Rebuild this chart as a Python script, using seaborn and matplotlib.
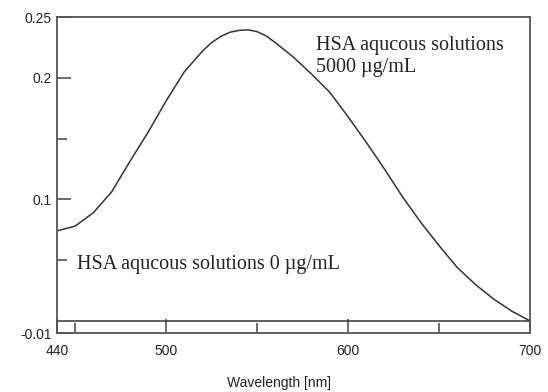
import matplotlib
matplotlib.use("Agg")
import matplotlib.pyplot as plt
import seaborn as sns
import pandas as pd
from matplotlib.ticker import FixedLocator

wavelength = [440, 450, 460, 470, 480, 490, 500, 510, 520, 525, 530, 535, 540, 545, 550,
              555, 560, 570, 580, 590, 600, 610, 620, 630, 640, 650, 660, 670, 680, 690, 700]
absorb_5000 = [0.074, 0.078, 0.089, 0.106, 0.131, 0.155, 0.181, 0.205, 0.222, 0.229,
               0.234, 0.2375, 0.239, 0.2395, 0.238, 0.2345, 0.229, 0.217, 0.203, 0.188,
               0.168, 0.147, 0.125, 0.102, 0.081, 0.062, 0.044, 0.030, 0.018, 0.008, 0.000]
absorb_0 = [0.0] * len(wavelength)

x_major = [440, 500, 600, 700]
x_minor = [450, 550, 650]
y_major = [-0.01, 0.1, 0.2, 0.25]
y_major_labels = ["-0.01", "0.1", "0.2", "0.25"]
y_minor = [0.05, 0.15]

label_top = "HSA aqucous solutions\n5000 µg/mL"
label_bottom = "HSA aqucous solutions 0 µg/mL"
xlabel = "Wavelength [nm]"

sns.set_style("white")
plt.rcParams["font.family"] = ["Liberation Sans", "DejaVu Sans"]

df = pd.DataFrame({"wl": wavelength, "a5000": absorb_5000, "a0": absorb_0})

fig = plt.figure(figsize=(5.48, 3.92), dpi=100)
ax = fig.add_axes([0.104, 0.1505, 0.863, 0.806])

sns.lineplot(data=df, x="wl", y="a5000", ax=ax, color="#333333", lw=1.1)
sns.lineplot(data=df, x="wl", y="a0", ax=ax, color="#333333", lw=1.1)

ax.set_xlim(440, 700)
ax.set_ylim(-0.01, 0.25)

ax.xaxis.set_major_locator(FixedLocator(x_major))
ax.xaxis.set_minor_locator(FixedLocator(x_minor))
ax.yaxis.set_major_locator(FixedLocator(y_major))
ax.yaxis.set_minor_locator(FixedLocator(y_minor))
ax.set_yticklabels(y_major_labels)

ax.tick_params(which="major", direction="in", length=10, width=1.1, color="#444444",
               labelsize=10, labelcolor="#222222", bottom=True, left=True, top=False, right=False)
ax.tick_params(which="minor", direction="in", length=7, width=1.1, color="#444444",
               bottom=True, left=True, top=False, right=False)
ax.tick_params(axis="x", pad=8)
ax.tick_params(axis="y", pad=4)

for s in ax.spines.values():
    s.set_color("#555555")
    s.set_linewidth(1.3)
    s.set_visible(True)

ax.set_xlabel(xlabel, fontsize=10, color="#222222", labelpad=12)
ax.xaxis.set_label_coords(0.47, -0.135)
ax.set_ylabel("")

serif = ["Liberation Serif", "DejaVu Serif"]
ax.text(582.5, 0.2345, label_top, family=serif,
        fontsize=14.5, color="#222222", va="top", ha="left", linespacing=1.2)
ax.text(451.0, 0.046, label_bottom, family=serif,
        fontsize=14.5, color="#222222", va="center", ha="left")

fig.savefig("out.png", dpi=100)
